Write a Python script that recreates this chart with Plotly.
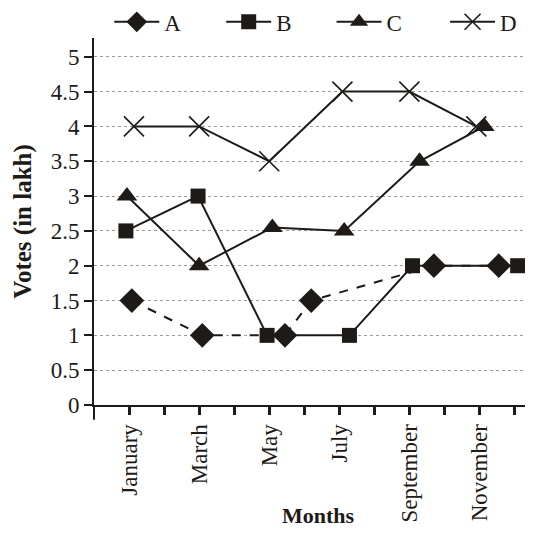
import plotly.graph_objects as go

month_ticks = list(range(1, 13))
month_labels = ["January", "", "March", "", "May", "", "July", "", "September", "", "November", ""]
y_ticks = [0, 0.5, 1, 1.5, 2, 2.5, 3, 3.5, 4, 4.5, 5]
y_tick_labels = ["0", "0.5", "1", "1.5", "2", "2.5", "3", "3.5", "4", "4.5", "5"]

# x positions are month numbers (January = 1), as placed in the picture
a_x = [1.08, 3.09, 5.45, 6.2, 9.7, 11.55]
a_y = [1.5, 1, 1, 1.5, 2, 2]
b_x = [0.91, 2.97, 4.94, 7.29, 9.09, 12.09]
b_y = [2.5, 3, 1, 1, 2, 2]
c_x = [0.94, 3.0, 5.09, 7.14, 9.29, 11.14]
c_y = [3, 2, 2.55, 2.5, 3.5, 4]
d_x = [1.14, 3.0, 5.0, 7.09, 9.0, 10.91]
d_y = [4, 4, 3.5, 4.5, 4.5, 4]

ink = "#1e1a18"
font = "Liberation Serif, Times New Roman, Times, serif"

fig = go.Figure()
fig.add_trace(go.Scatter(x=a_x, y=a_y, mode="lines+markers", name="A",
                         line=dict(color=ink, width=2, dash="dash"),
                         marker=dict(symbol="diamond", size=19, color=ink),
                         showlegend=False))
fig.add_trace(go.Scatter(x=[None], y=[None], mode="lines+markers", name="A", legend="legend",
                         line=dict(color=ink, width=2),
                         marker=dict(symbol="diamond", size=19, color=ink)))
fig.add_trace(go.Scatter(x=b_x, y=b_y, mode="lines+markers", name="B", legend="legend2",
                         line=dict(color=ink, width=2),
                         marker=dict(symbol="square", size=15, color=ink)))
fig.add_trace(go.Scatter(x=c_x, y=c_y, mode="lines+markers", name="C", legend="legend3",
                         line=dict(color=ink, width=2),
                         marker=dict(symbol="triangle-up", size=18, color=ink)))
fig.add_trace(go.Scatter(x=d_x, y=d_y, mode="lines+markers", name="D", legend="legend4",
                         line=dict(color=ink, width=2),
                         marker=dict(symbol="x-thin", size=20, color=ink,
                                     line=dict(color=ink, width=1.6))))


def leg(xpos):
    return dict(orientation="h", xref="container", yref="container",
                x=xpos, xanchor="left", y=0.974, yanchor="middle",
                font=dict(size=23, family=font, color=ink), itemwidth=45,
                bgcolor="rgba(0,0,0,0)")


fig.update_layout(
    width=533, height=533,
    margin=dict(l=86, r=16, t=30, b=136, autoexpand=False),
    paper_bgcolor="white", plot_bgcolor="white",
    font=dict(family=font, color=ink, size=22),
    legend=leg(0.19), legend2=leg(0.40), legend3=leg(0.607), legend4=leg(0.82),
    xaxis=dict(range=[0, 12.3], tickmode="array", tickvals=month_ticks, ticktext=month_labels,
               tickangle=-90, ticks="outside", ticklen=8, tickwidth=3, tickcolor=ink,
               showline=True, linecolor=ink, linewidth=2, showgrid=False, zeroline=False,
               tickfont=dict(size=23, family=font)),
    yaxis=dict(range=[0, 5.27], tickmode="array", tickvals=y_ticks, ticktext=y_tick_labels,
               ticks="outside", ticklen=8, tickwidth=1.5, tickcolor=ink,
               showline=True, linecolor=ink, linewidth=2, zeroline=False,
               showgrid=True, gridcolor="#9a9a9a", griddash="dot", gridwidth=1,
               tickfont=dict(size=23, family=font),
               title=dict(text="<b>Votes (in lakh)</b>", font=dict(size=25, family=font), standoff=12)),
    annotations=[dict(text="<b>Months</b>", xref="paper", yref="paper", x=0.52, y=-0.3,
                      xanchor="center", yanchor="middle", showarrow=False,
                      font=dict(size=22, family=font, color=ink))],
    shapes=[dict(type="line", xref="paper", yref="paper", x0=0, x1=0, y0=0, y1=-0.04,
                 line=dict(color=ink, width=2))],
)

fig.write_html("out.html")
